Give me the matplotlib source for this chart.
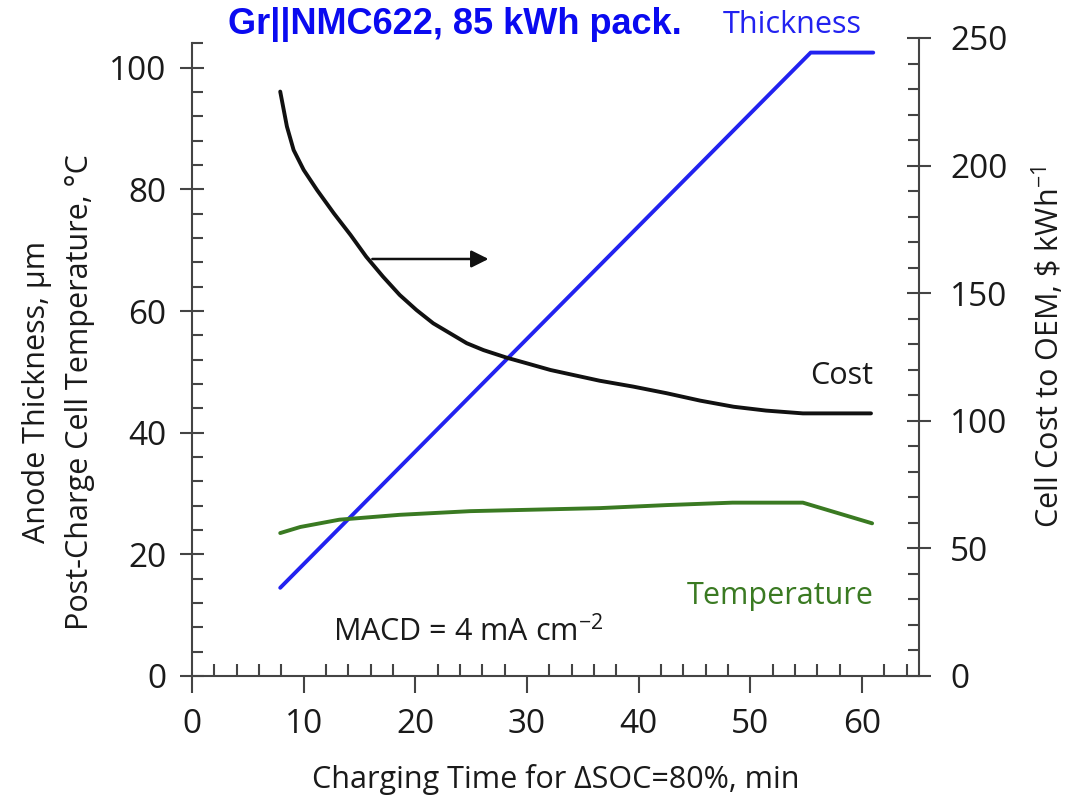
"""Gr||NMC622 pack: anode thickness, cell temperature and cost vs. charging time."""
import matplotlib
matplotlib.use("Agg")
import matplotlib.pyplot as plt
from matplotlib.ticker import MultipleLocator

plt.rcParams['font.family'] = ['Open Sans', 'DejaVu Sans']
plt.rcParams['mathtext.default'] = 'regular'

# Series
thk_time = [7.9, 55.4, 61.0]
thickness = [14.5, 102.5, 102.5]  # um, left axis

temp_time = [7.9, 9.7, 13.2, 18.6, 24.9, 36.5, 42.5, 48.4, 54.7, 60.9]
temperature = [23.5, 24.5, 25.7, 26.5, 27.1, 27.6, 28.1, 28.5, 28.5, 25.1]  # C, left axis

cost_time = [7.9, 8.5, 9.1, 10.0, 11.2, 12.7, 14.2, 15.6, 17.1, 18.6, 20.1,
             21.6, 23.1, 24.6, 26.1, 28.2, 30.0, 32.1, 36.5, 39.5, 42.5,
             45.5, 48.5, 51.4, 54.7, 60.8]
cost = [229.0, 215.3, 206.1, 198.3, 190.4, 181.3, 172.8, 164.3, 156.5, 149.3,
        143.4, 138.2, 134.3, 130.4, 127.7, 124.7, 122.5, 119.9, 115.7, 113.4,
        110.8, 107.9, 105.5, 104.0, 102.9, 102.9]  # $/kWh, right axis

BLUE = '#2222f0'
GREEN = '#3a7a22'
BLACK = '#111111'
SPINE = '#444444'
TXT = '#1a1a1a'
LW = 2.8

fig = plt.figure(figsize=(10.69, 7.98), dpi=100)
ax = fig.add_axes([0.1796, 0.1529, 0.6801, 0.7995])
ax2 = ax.twinx()

ax.plot(thk_time, thickness, color=BLUE, lw=LW, solid_capstyle='round', zorder=3)
ax.plot(temp_time, temperature, color=GREEN, lw=LW, solid_capstyle='round', zorder=3)
ax2.plot(cost_time, cost, color=BLACK, lw=LW, solid_capstyle='round',
         solid_joinstyle='round', zorder=3)

ax.set_xlim(0, 65.1)
ax.set_ylim(0, 104.9)
ax2.set_ylim(0, 250)

for a in (ax, ax2):
    a.spines['top'].set_visible(False)
    for s in a.spines.values():
        s.set_color(SPINE)
        s.set_linewidth(1.5)
ax.spines['right'].set_visible(False)
ax.spines['left'].set_bounds(0, 104)
ax2.spines['left'].set_visible(False)
ax2.spines['bottom'].set_visible(False)

# x ticks: majors hang below, minors stand inside
ax.xaxis.set_major_locator(MultipleLocator(10))
ax.xaxis.set_minor_locator(MultipleLocator(2))
ax.set_xticks(range(0, 70, 10))
ax.tick_params(axis='x', which='major', direction='out', length=12, width=1.5,
               color=SPINE, labelsize=24, labelcolor=TXT, pad=11)
ax.tick_params(axis='x', which='minor', direction='in', length=9, width=1.5, color=SPINE)

ax.yaxis.set_major_locator(MultipleLocator(20))
ax.yaxis.set_minor_locator(MultipleLocator(4))
ax.tick_params(axis='y', which='major', direction='inout', length=17, width=1.5,
               color=SPINE, labelsize=24, labelcolor=TXT, pad=10)
ax.tick_params(axis='y', which='minor', direction='in', length=8, width=1.5, color=SPINE)

ax2.yaxis.set_major_locator(MultipleLocator(50))
ax2.yaxis.set_minor_locator(MultipleLocator(10))
ax2.tick_params(axis='y', which='major', direction='inout', length=17, width=1.5,
                color=SPINE, labelsize=24, labelcolor=TXT, pad=14)
ax2.tick_params(axis='y', which='minor', direction='in', length=8, width=1.5, color=SPINE)

ax.set_xlabel('Charging Time for ΔSOC=80%, min', fontsize=22, color=TXT)
ax.xaxis.set_label_coords(0.5, -0.138)
ax.set_ylabel('Anode Thickness, µm\nPost-Charge Cell Temperature, °C', fontsize=22,
              color=TXT, linespacing=1.55)
ax.yaxis.set_label_coords(-0.134, 0.445)
ax2.set_ylabel(r'Cell Cost to OEM, \$ kWh$^{-1}$', fontsize=22, color=TXT)
ax2.yaxis.set_label_coords(1.152, 0.515)

# curve labels and notes
ax2.text(61.0, 117.6, 'Cost', fontsize=22, color=TXT, ha='right', va='center')
ax.text(61.0, 13.2, 'Temperature', fontsize=22, color=GREEN, ha='right', va='center')
ax.text(12.6, 7.2, r'MACD = 4 mA cm$^{-2}$', fontsize=22, color=TXT, ha='left', va='center')
ax2.annotate('', xy=(26.8, 163.4), xytext=(15.9, 163.4),
             arrowprops=dict(arrowstyle='-|>', color=BLACK, lw=1.8, mutation_scale=26))

fig.text(0.4256, 0.9687, 'Gr||NMC622, 85 kWh pack.', fontsize=26, fontweight='bold',
         family='Liberation Sans', color='#0a0af0', ha='center', va='center')
fig.text(0.7409, 0.9687, 'Thickness', fontsize=22, color=BLUE, ha='center', va='center')

fig.savefig('out.png', dpi=100)
